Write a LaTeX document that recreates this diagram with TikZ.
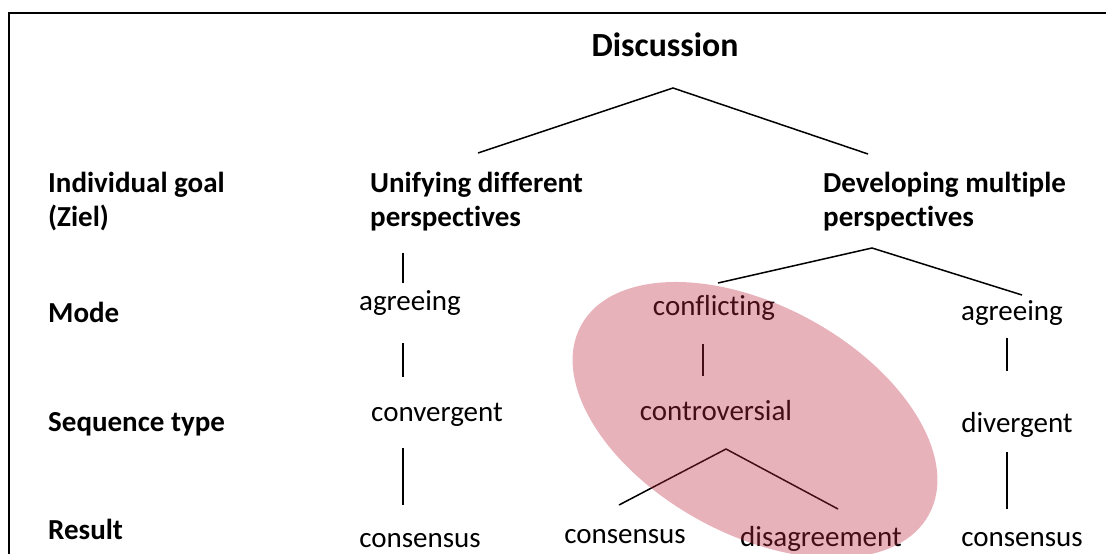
\documentclass[tikz,border=0pt]{standalone}
\usepackage{fontspec}
\setmainfont{Carlito}[Ligatures=NoCommon]
\definecolor{ellrose}{RGB}{191,41,63}
\begin{document}
\begin{tikzpicture}[x=1pt,y=-1pt,
  lbl/.style={font=\fontsize{29}{35}\selectfont\bfseries, anchor=base west, inner sep=0pt},
  item/.style={font=\fontsize{29}{35}\selectfont, anchor=base, inner sep=0pt},
  conn/.style={line width=1.5pt, black},
  highlight/.style={fill=ellrose, fill opacity=0.36},
  ]
\useasboundingbox (0,0) rectangle (1106,554);
% frame
\draw[line width=2pt] (9,554) -- (9,13) -- (1106,13);

% title
\node[font=\fontsize{33.8}{40}\selectfont\bfseries, anchor=base, inner sep=0pt] (disc) at (665,56) {Discussion};

% row labels
\node[lbl] (goal) at (48,192) {Individual goal};
\node[lbl] (ziel) at (48,226) {(Ziel)};
\node[lbl] (mode) at (48,322) {Mode};
\node[lbl] (seq) at (48,431) {Sequence type};
\node[lbl] (res) at (48,539) {Result};

% goals
\node[lbl] (unify1) at (370,192) {Unifying different};
\node[lbl] (unify2) at (370,226) {perspectives};
\node[lbl] (dev1) at (823,192) {Developing multiple};
\node[lbl] (dev2) at (823,226) {perspectives};

% left branch
\node[item] (agreeL) at (410,310) {agreeing};
\node[item] (convL) at (437,421) {convergent};
\node[item] (consL) at (420,547) {consensus};

% middle branch
\node[item] (confl) at (714,315) {conflicting};
\node[item] (contr) at (716,420) {controversial};
\node[item] (consM) at (625,543) {consensus};
\node[item] (disag) at (821,546) {disagreement};

% right branch
\node[item] (agreeR) at (1012,320) {agreeing};
\node[item] (divR) at (1017,432) {divergent};
\node[item] (consR) at (1022,546) {consensus};

% connector end points
\coordinate (topapex) at (673,88);
\coordinate (topL) at (478,153);
\coordinate (topR) at (868,154);
\coordinate (devapex) at (872,248);
\coordinate (devL) at (718,283);
\coordinate (devR) at (1022,295);
\coordinate (ctrapex) at (726,449);
\coordinate (ctrL) at (619,505);
\coordinate (ctrR) at (838,509);
\coordinate (lv1a) at (403,253); \coordinate (lv1b) at (403,283);
\coordinate (lv2a) at (403,343); \coordinate (lv2b) at (403,377);
\coordinate (lv3a) at (403,448); \coordinate (lv3b) at (403,505);
\coordinate (mv1a) at (703,344); \coordinate (mv1b) at (703,376);
\coordinate (rv1a) at (1007,338); \coordinate (rv1b) at (1007,371);
\coordinate (rv2a) at (1007,452); \coordinate (rv2b) at (1007,509);

\draw[conn] (topL) -- (topapex) -- (topR);
\draw[conn] (devL) -- (devapex) -- (devR);
\draw[conn] (ctrL) -- (ctrapex) -- (ctrR);
\draw[conn] (lv1a) -- (lv1b);
\draw[conn] (lv2a) -- (lv2b);
\draw[conn] (lv3a) -- (lv3b);
\draw[conn] (mv1a) -- (mv1b);
\draw[conn] (rv1a) -- (rv1b);
\draw[conn] (rv2a) -- (rv2b);

% translucent highlight over the controversial path
\fill[highlight, shift={(755,420)}, rotate=-28.5] (0,0) ellipse [x radius=198pt, y radius=114.5pt];
\end{tikzpicture}
\end{document}
